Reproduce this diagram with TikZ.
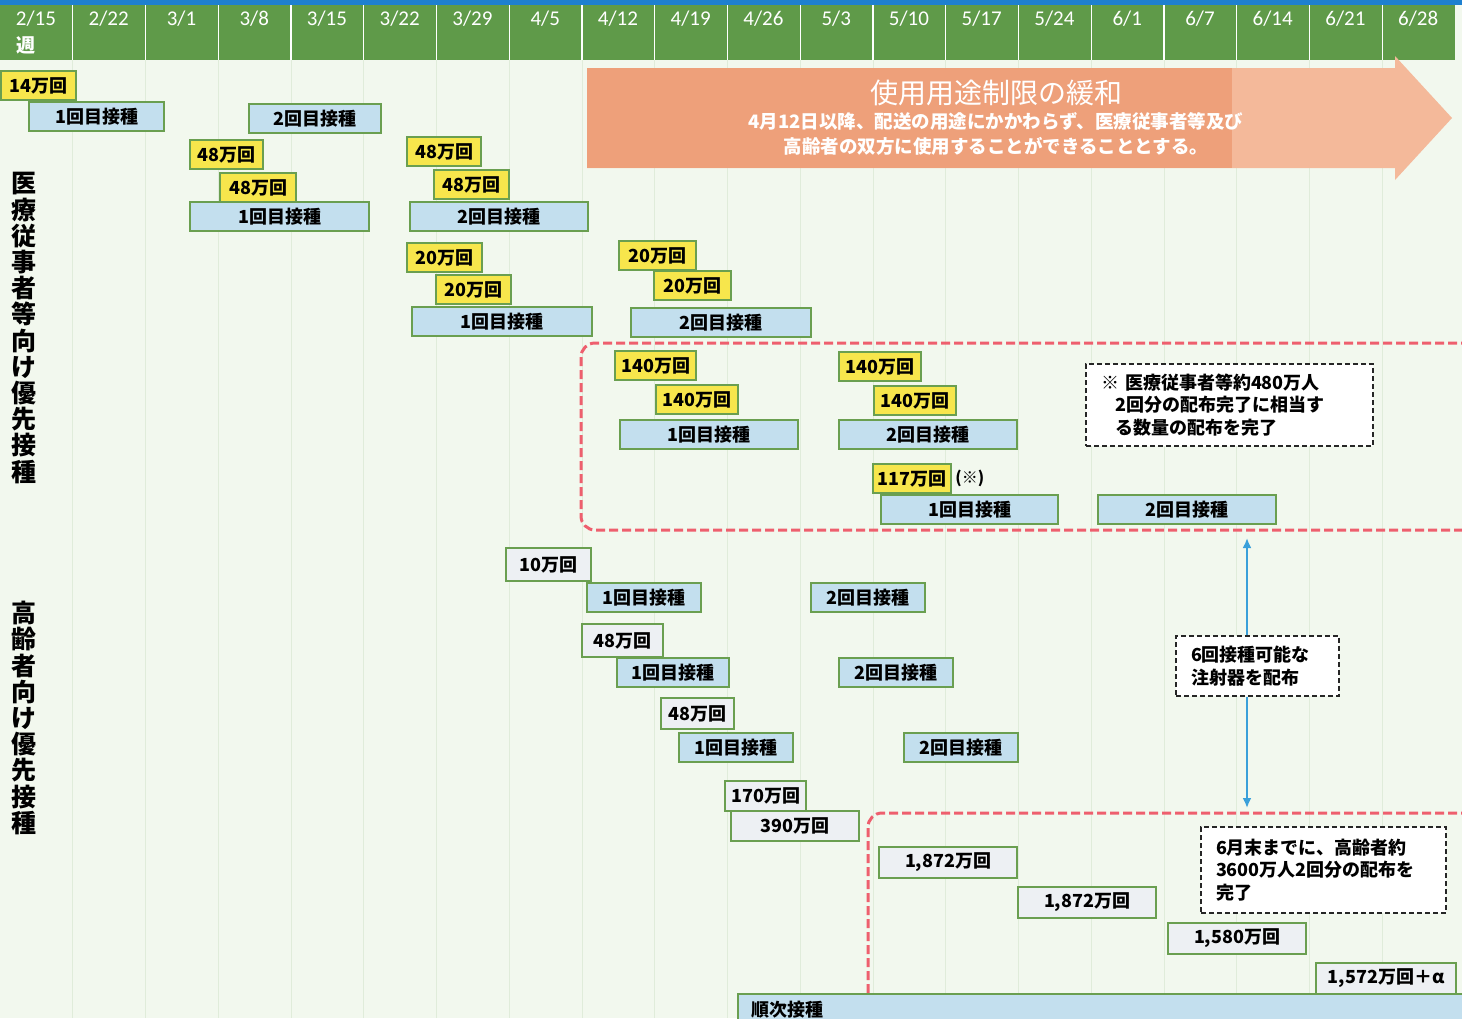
\documentclass[tikz,border=0pt]{standalone}
\usepackage{fontspec}
\setmainfont{Carlito}
\newfontfamily\jpfont{Noto Sans CJK JP}
\usepackage{tikz}
\usetikzlibrary{arrows.meta,positioning}
\definecolor{paper}{HTML}{F2F8EE}
\definecolor{grid}{HTML}{E0ECDA}
\definecolor{hdrblue}{HTML}{1E80D0}
\definecolor{hdrgreen}{HTML}{5F9A49}
\definecolor{edge}{HTML}{6A9F50}
\definecolor{dose}{HTML}{F7E64C}
\definecolor{shot}{HTML}{C3DFEE}
\definecolor{lot}{HTML}{EDF0F3}
\definecolor{relax}{HTML}{EEA07A}
\definecolor{relaxlight}{HTML}{F4B99A}
\definecolor{zone}{HTML}{EE5F6E}
\definecolor{syringe}{HTML}{3AA0DA}

\tikzset{
    box/.style={draw=edge, line width=2.2pt, minimum height=29pt, inner sep=0pt,
                anchor=north west, font=\jpfont\bfseries\fontsize{18}{20}\selectfont},
    dosebox/.style={box, fill=dose},
    shotbox/.style={box, fill=shot},
    lotbox/.style={box, fill=lot, minimum height=31pt},
    notebox/.style={draw=black!85, line width=2pt, dash pattern=on 5pt off 3pt,
                    fill=white, anchor=north west, align=left, inner ysep=0pt,
                    inner xsep=15pt, font=\jpfont\bfseries\fontsize{18}{22.5}\selectfont},
    zoneline/.style={zone, line width=3pt, dash pattern=on 9pt off 4pt, rounded corners=14pt},
    syrline/.style={syringe, line width=2.4pt, -{Latex[length=10pt,width=9pt]}},
    grouplabel/.style={font=\jpfont\bfseries\fontsize{25}{26.2}\selectfont, align=center},
}

\begin{document}
\begin{tikzpicture}[x=1pt,y=-1pt]
    \useasboundingbox (0,0) rectangle (1462,1018);
    \fill[paper] (0,0) rectangle (1462,1018);
    \foreach \i in {1,...,19}
        \draw[grid,line width=1pt] (\i*72.75,60) -- (\i*72.75,1018);

    % week header
    \fill[hdrblue] (0,0) rectangle (1462,5);
    \fill[hdrgreen] (0,5) rectangle (1455,60);
    \foreach \i in {1,...,19}
        \draw[white,line width=1.3pt] (\i*72.75,5) -- (\i*72.75,60);
    \foreach \m/\dd [count=\i from 0] in {2/15,2/22,3/1,3/8,3/15,3/22,3/29,4/5,4/12,4/19,
                                         4/26,5/3,5/10,5/17,5/24,6/1,6/7,6/14,6/21,6/28}
        \node[white,font=\fontsize{21}{24}\selectfont] (wk\i) at (\i*72.75+36,19) {\m/\dd};
    \node[white,font=\jpfont\bfseries\fontsize{19}{20}\selectfont] (wkunit) at (26,45) {週};

    % relaxed use arrow
    \fill[relaxlight] (587,68) -- (1395,68) -- (1395,56) -- (1452,118)
        -- (1395,180) -- (1395,168) -- (587,168) -- cycle;
    \fill[relax] (587,68) rectangle (1232,168);
    \node[white,font=\jpfont\fontsize{28}{30}\selectfont] (relaxtitle) at (996,93) {使用用途制限の緩和};
    \node[white,font=\jpfont\bfseries\fontsize{18.5}{25}\selectfont,align=center] (relaxnote)
        at (996,134) {4月12日以降、配送の用途にかかわらず、医療従事者等及び\\
                      高齢者の双方に使用することができることとする。};

    % group labels
    \node[grouplabel] (medlabel) at (24,328) {医\\療\\従\\事\\者\\等\\向\\け\\優\\先\\接\\種};
    \node[grouplabel] (eldlabel) at (24,718) {高\\齢\\者\\向\\け\\優\\先\\接\\種};

    % red zones
    \draw[zoneline] (1470,343) -- (581,343) -- (581,530) -- (1470,530);
    \draw[zoneline] (1470,813) -- (868,813) -- (868,1030);

    % medical staff
    \node[dosebox,minimum width=75pt] (m14) at (0,70) {14万回};
    \node[shotbox,minimum width=135pt] (m14a) at (28,101) {1回目接種};
    \node[shotbox,minimum width=132pt] (m14b) at (248,103) {2回目接種};
    \node[dosebox,minimum width=73pt] (m48a) at (189,139) {48万回};
    \node[dosebox,minimum width=76pt] (m48b) at (219,172) {48万回};
    \node[shotbox,minimum width=179pt] (m48ab) at (189,201) {1回目接種};
    \node[dosebox,minimum width=74pt] (m48c) at (406,136) {48万回};
    \node[dosebox,minimum width=75pt] (m48d) at (433,169) {48万回};
    \node[shotbox,minimum width=178pt] (m48cd) at (409,201) {2回目接種};
    \node[dosebox,minimum width=75pt] (m20a) at (406,242) {20万回};
    \node[dosebox,minimum width=75pt] (m20b) at (435,274) {20万回};
    \node[shotbox,minimum width=180pt] (m20ab) at (411,306) {1回目接種};
    \node[dosebox,minimum width=77pt] (m20c) at (618,240) {20万回};
    \node[dosebox,minimum width=77pt] (m20d) at (653,270) {20万回};
    \node[shotbox,minimum width=180pt] (m20cd) at (630,307) {2回目接種};
    \node[dosebox,minimum width=81pt] (m140a) at (614,350) {140万回};
    \node[dosebox,minimum width=82pt] (m140b) at (655,384) {140万回};
    \node[shotbox,minimum width=178pt] (m140ab) at (619,419) {1回目接種};
    \node[dosebox,minimum width=82pt] (m140c) at (838,351) {140万回};
    \node[dosebox,minimum width=82pt] (m140d) at (873,385) {140万回};
    \node[shotbox,minimum width=178pt] (m140cd) at (838,419) {2回目接種};
    \node[dosebox,minimum width=78pt] (m117) at (872,463) {117万回};
    \node[right=3pt of m117,inner sep=0pt,font=\jpfont\bfseries\fontsize{16}{18}\selectfont] (m117mark) {(※)};
    \node[shotbox,minimum width=177pt] (m117a) at (880,494) {1回目接種};
    \node[shotbox,minimum width=178pt] (m117b) at (1097,494) {2回目接種};
    \node[notebox,minimum height=82pt,text width=257pt] (medmemo) at (1085,363)
        {※ 医療従事者等約480万人\\
         \hspace*{0.8em}2回分の配布完了に相当す\\
         \hspace*{0.8em}る数量の配布を完了};

    % elderly
    \node[lotbox,minimum width=85pt,minimum height=33pt] (e10) at (505,547) {10万回};
    \node[shotbox,minimum width=114pt] (e10a) at (586,582) {1回目接種};
    \node[shotbox,minimum width=114pt] (e10b) at (810,582) {2回目接種};
    \node[lotbox,minimum width=81pt,minimum height=33pt] (e48a) at (581,623) {48万回};
    \node[shotbox,minimum width=112pt] (e48aa) at (616,657) {1回目接種};
    \node[shotbox,minimum width=114pt] (e48ab) at (838,657) {2回目接種};
    \node[lotbox,minimum width=73pt] (e48b) at (660,697) {48万回};
    \node[shotbox,minimum width=114pt] (e48ba) at (678,732) {1回目接種};
    \node[shotbox,minimum width=114pt] (e48bb) at (903,732) {2回目接種};
    \node[lotbox,minimum width=81pt,minimum height=30pt] (e170) at (724,780) {170万回};
    \node[lotbox,minimum width=128pt,minimum height=30pt] (e390) at (730,810) {390万回};
    \node[lotbox,minimum width=138pt] (e1872a) at (878,846) {1,872万回};
    \node[lotbox,minimum width=138pt] (e1872b) at (1017,886) {1,872万回};
    \node[lotbox,minimum width=138pt] (e1580) at (1167,922) {1,580万回};
    \node[lotbox,minimum width=140pt] (e1572) at (1315,962) {1,572万回＋α};
    \node[shotbox,text width=718pt,inner xsep=13pt,align=left,minimum height=32pt] (eseq)
        at (737,993) {順次接種};
    \node[notebox,minimum height=86pt,text width=215pt] (eldmemo) at (1200,826)
        {6月末までに、高齢者約\\3600万人2回分の配布を\\完了};

    % syringes
    \node[notebox,minimum height=60pt,text width=133pt] (syrmemo) at (1175,635)
        {6回接種可能な\\注射器を配布};
    \coordinate (syrtop) at (1247,538);
    \coordinate (syrbot) at (1247,808);
    \draw[syrline] (syrtop |- syrmemo.north) -- (syrtop);
    \draw[syrline] (syrbot |- syrmemo.south) -- (syrbot);
\end{tikzpicture}
\end{document}
